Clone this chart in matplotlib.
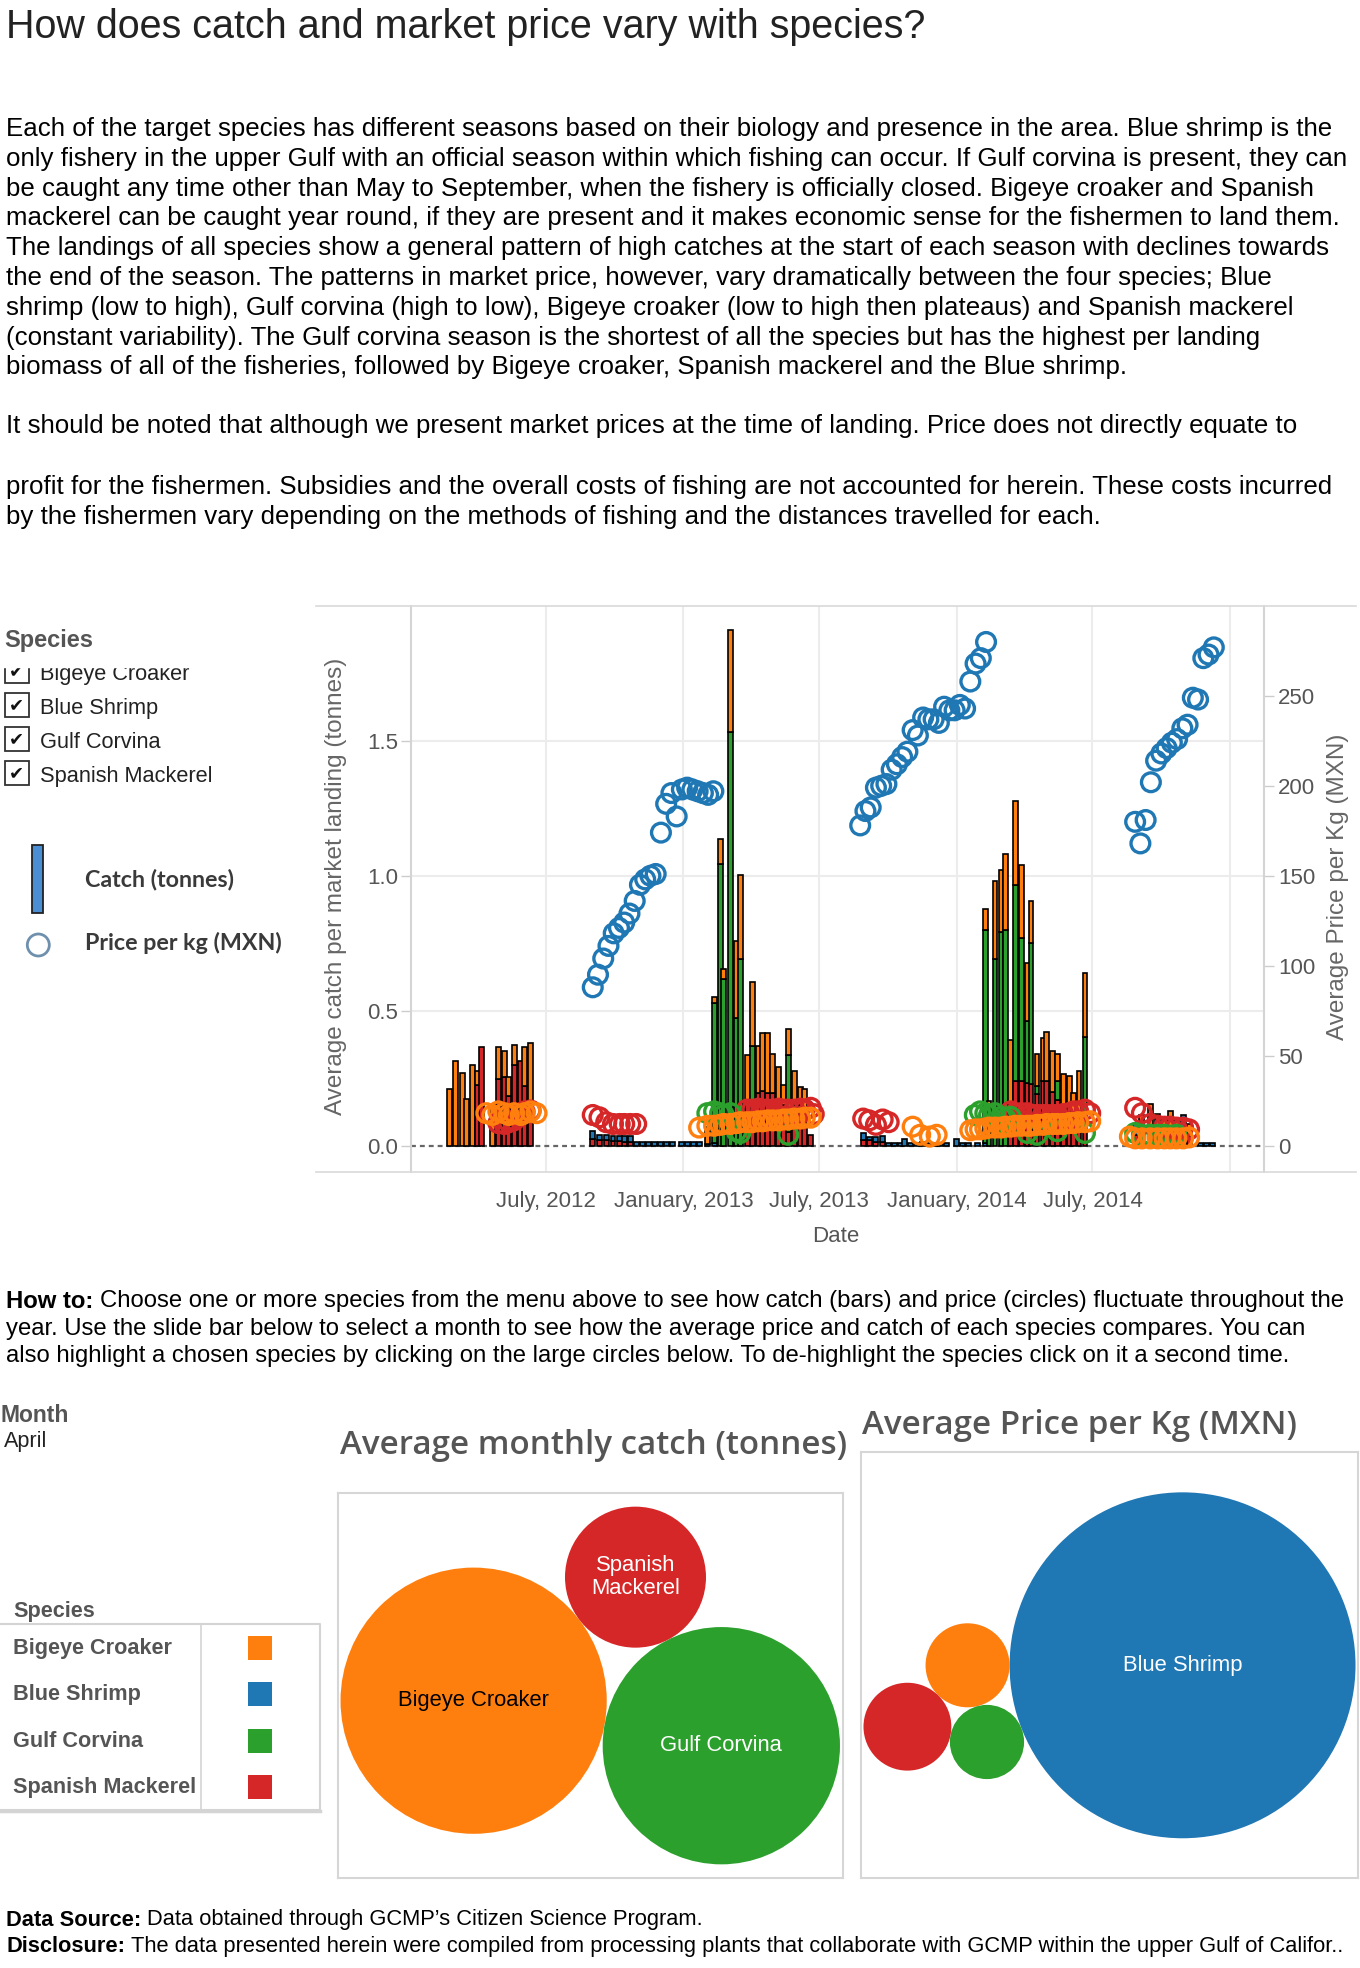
import matplotlib
matplotlib.use('Agg')
import matplotlib.pyplot as plt
from matplotlib.patches import Rectangle, Circle
import numpy as np
import pandas as pd

plt.rcParams['font.family'] = ['Liberation Sans', 'DejaVu Sans']

W, H = 1360, 1968

species = ['Bigeye Croaker', 'Blue Shrimp', 'Gulf Corvina', 'Spanish Mackerel']
colors = {'Bigeye Croaker': '#ff7f0e', 'Blue Shrimp': '#1f77b4',
          'Gulf Corvina': '#2ca02c', 'Spanish Mackerel': '#d62728'}

# ---- catch per landing (tonnes), stacked bars ----
bar_dates = [
    # 2012
    '2012-02-24', '2012-03-03', '2012-03-12', '2012-03-18', '2012-03-25', '2012-04-01', '2012-04-07',
    '2012-04-21', '2012-04-29', '2012-05-07', '2012-05-13', '2012-05-20', '2012-05-29', '2012-06-03',
    '2012-06-11',
    # 2012-13 shrimp season
    '2012-09-02', '2012-09-11', '2012-09-20', '2012-09-29', '2012-10-08', '2012-10-14', '2012-10-22',
    '2012-10-30', '2012-11-07', '2012-11-15', '2012-11-23', '2012-12-01', '2012-12-09', '2012-12-17',
    '2012-12-29', '2013-01-06', '2013-01-14', '2013-01-22', '2013-02-02',
    # 2013 corvina season
    '2013-02-11', '2013-02-19', '2013-02-24', '2013-03-05', '2013-03-13', '2013-03-18', '2013-03-27',
    '2013-04-03', '2013-04-11', '2013-04-17', '2013-04-23', '2013-04-30', '2013-05-08', '2013-05-15',
    '2013-05-21', '2013-05-29', '2013-06-06', '2013-06-12', '2013-06-20',
    # 2013-14 shrimp season
    '2013-08-29', '2013-09-06', '2013-09-15', '2013-09-24', '2013-10-02', '2013-10-10', '2013-10-18',
    '2013-10-23', '2013-10-31', '2013-11-08', '2013-11-16', '2013-11-24', '2013-12-02', '2013-12-10',
    '2013-12-18', '2014-01-01', '2014-01-09', '2014-01-17', '2014-01-28',
    # 2014 corvina season
    '2014-02-08', '2014-02-13', '2014-02-21', '2014-03-01', '2014-03-07', '2014-03-14', '2014-03-20',
    '2014-03-28', '2014-04-05', '2014-04-10', '2014-04-18', '2014-04-26', '2014-05-01', '2014-05-09',
    '2014-05-15', '2014-05-23', '2014-05-31', '2014-06-06', '2014-06-13', '2014-06-21',
    # 2014-15
    '2014-08-27', '2014-09-05', '2014-09-16', '2014-09-26', '2014-10-05', '2014-10-13', '2014-10-21',
    '2014-10-30', '2014-11-07', '2014-11-22', '2014-11-30', '2014-12-08',
]
catch_sm = ([0, 0, 0, 0, 0, 0.224, 0.364, 0, 0.245, 0.254, 0.185, 0.299, 0.315, 0.219, 0.15]
            + [0.025, 0.02, 0.02, 0.018, 0.018, 0.015, 0.015] + [0] * 12
            + [0, 0, 0, 0, 0, 0, 0.17, 0.17, 0.196, 0.203, 0.196, 0.196, 0.17, 0.15, 0.05, 0.15, 0.15, 0.1, 0.04]
            + [0.021, 0.021, 0.015, 0.015] + [0] * 15
            + [0, 0, 0, 0, 0, 0.16, 0.238, 0.24, 0.232, 0.23, 0.19, 0.24, 0.24, 0.2, 0.17, 0.15, 0.13, 0.1, 0.1, 0.05]
            + [0.04, 0.04, 0.05, 0.05, 0.05, 0.05, 0.04, 0.04, 0.03, 0, 0, 0])
catch_bs = ([0] * 15
            + [0.03, 0.02, 0.02, 0.018, 0.018, 0.02, 0.02, 0.012, 0.012, 0.012, 0.012, 0.012, 0.012, 0.012,
               0.012, 0.012, 0.012, 0.012, 0.005]
            + [0.01] + [0] * 18
            + [0.025, 0.012, 0.015, 0.02, 0.01, 0.01, 0.01, 0.024, 0.01, 0.01, 0.012, 0.01, 0.01, 0.01, 0.01,
               0.024, 0.01, 0.01, 0.008]
            + [0.01] + [0] * 19
            + [0.04, 0, 0, 0, 0, 0, 0, 0.072, 0, 0.01, 0.01, 0.01])
catch_gc = ([0] * 15 + [0] * 19
            + [0.52, 1.044, 0.618, 1.533, 0.471, 0.692, 0, 0.2, 0, 0, 0, 0, 0, 0, 0.286, 0, 0, 0, 0]
            + [0] * 19
            + [0.79, 0.1, 0.69, 0.79, 0.80, 0, 0.727, 0.53, 0.229, 0.52, 0.03, 0, 0, 0, 0.07, 0, 0, 0, 0, 0.353]
            + [0, 0.02, 0.02, 0, 0, 0, 0, 0, 0, 0, 0, 0])
catch_bc = ([0.209, 0.313, 0.269, 0.172, 0.299, 0.052, 0, 0.15, 0.119, 0.095, 0.069, 0.073, 0, 0.145, 0.229]
            + [0] * 18 + [0.065]
            + [0.02, 0.094, 0.038, 0.378, 0.286, 0.311, 0.166, 0.235, 0.173, 0.213, 0.22, 0.144, 0.12, 0.073,
               0.096, 0.125, 0.066, 0.11, 0]
            + [0] * 19
            + [0.076, 0.064, 0.29, 0.23, 0.28, 0.233, 0.314, 0.27, 0.217, 0.155, 0.12, 0.16, 0.18, 0.15, 0.10,
               0.116, 0.129, 0.095, 0.175, 0.235]
            + [0, 0.054, 0.085, 0.068, 0.05, 0.077, 0.06, 0, 0.05, 0, 0, 0])

# ---- price per kg (MXN), circles ----
bs_price_starts = ['2012-09-02', '2013-08-25', '2014-08-27']  # weekly landings
bs_price_1 = [88, 95, 104, 111, 118, 121, 124, 129, 136, 145, 148, 150, 151, 174, 190, 196, 183, 198, 199,
              198, 197, 196, 195, 197]
bs_price_2 = [178, 186, 188, 199, 200, 201, 209, 212, 216, 219, 231, 228, 238, 237, 237, 235, 244, 242, 242,
              245, 243, 258, 268, 271, 280]
bs_price_3 = [180, 168, 181, 202, 214, 218, 221, 224, 226, 232, 234, 249, 248, 271, 273, 277]

sm_price_dates = ['2012-04-29', '2012-05-07', '2012-05-13', '2012-05-20', '2012-06-03', '2012-06-11',
                  '2012-09-02', '2012-09-11', '2012-09-20', '2012-09-29', '2012-10-08', '2012-10-14',
                  '2012-10-22', '2012-10-30',
                  '2013-03-27', '2013-04-03', '2013-04-11', '2013-04-17', '2013-04-23', '2013-04-30',
                  '2013-05-08', '2013-05-15', '2013-05-21', '2013-05-29', '2013-06-06', '2013-06-12',
                  '2013-06-20', '2013-06-24',
                  '2013-08-29', '2013-09-06', '2013-09-15', '2013-09-24', '2013-10-02',
                  '2014-03-14', '2014-03-20', '2014-03-28', '2014-04-05', '2014-04-10', '2014-04-18',
                  '2014-04-26', '2014-05-01', '2014-05-09', '2014-05-15', '2014-05-23', '2014-05-31',
                  '2014-06-06', '2014-06-12', '2014-06-21', '2014-06-28',
                  '2014-08-27', '2014-09-05', '2014-09-16', '2014-09-26', '2014-10-05', '2014-10-13',
                  '2014-10-21', '2014-10-30', '2014-11-07']
sm_price = [12.5, 12, 13, 14, 19, 19.5,
            17, 15.7, 13, 12, 12, 12, 12, 12,
            20, 20, 20.5, 20, 20, 20, 20.5, 20, 20, 20, 20.5, 20, 21, 17.5,
            15, 14, 11.5, 14.5, 13,
            19, 18, 18, 18, 17, 17, 17, 17, 17, 17, 17.5, 18, 19, 19, 20, 18,
            21, 18, 12, 11, 10.5, 10.5, 10, 10, 9]

gc_price_dates = ['2013-02-02', '2013-02-11', '2013-02-19', '2013-02-24', '2013-03-05', '2013-03-13',
                  '2013-03-18', '2013-05-21',
                  '2014-01-25', '2014-02-01', '2014-02-08', '2014-02-13', '2014-02-21', '2014-03-01',
                  '2014-03-07', '2014-03-14', '2014-04-05', '2014-04-18', '2014-05-15', '2014-06-21',
                  '2014-08-27', '2014-09-05', '2014-09-16', '2014-09-26', '2014-10-05', '2014-10-13',
                  '2014-10-21']
gc_price = [18, 19, 18, 17, 18, 8, 7, 6,
            17, 19, 18, 17, 18, 16, 15, 16, 7, 6, 8, 7,
            7, 6, 6, 6, 6, 5.5, 6]

bc_price_dates = ['2012-04-13', '2012-04-21', '2012-04-29', '2012-05-07', '2012-05-13', '2012-05-20',
                  '2012-05-29', '2012-06-03', '2012-06-11', '2012-06-19',
                  '2013-01-22', '2013-02-02', '2013-02-11', '2013-02-19', '2013-02-24', '2013-03-05',
                  '2013-03-13', '2013-03-18', '2013-03-27', '2013-04-03', '2013-04-11', '2013-04-17',
                  '2013-04-23', '2013-04-30', '2013-05-08', '2013-05-15', '2013-05-21', '2013-05-29',
                  '2013-06-06', '2013-06-12', '2013-06-20',
                  '2013-11-03', '2013-11-13', '2013-11-26', '2013-12-05',
                  '2014-01-19', '2014-01-26', '2014-02-01', '2014-02-08', '2014-02-13', '2014-02-21',
                  '2014-03-01', '2014-03-07', '2014-03-14', '2014-03-20', '2014-03-28', '2014-04-05',
                  '2014-04-10', '2014-04-18', '2014-04-26', '2014-05-01', '2014-05-09', '2014-05-15',
                  '2014-05-23', '2014-05-31', '2014-06-06', '2014-06-12', '2014-06-21', '2014-06-28',
                  '2014-08-20', '2014-08-27', '2014-09-05', '2014-09-16', '2014-09-26', '2014-10-05',
                  '2014-10-13', '2014-10-21', '2014-10-30', '2014-11-07']
bc_price = [18, 17, 19, 18, 17, 18, 17, 18, 19, 18,
            10, 11, 11, 11.5, 12, 12, 12.5, 13, 13, 13, 13.5, 13.5, 14, 14, 14, 14.5, 14.5, 15, 15, 15.5, 15.5,
            10.5, 6, 5, 6,
            8.5, 9, 9, 9.5, 10, 10, 10, 10.5, 10.5, 11, 11, 11, 11, 11.5, 11.5, 12, 12, 12, 12, 12.5, 12.5,
            13, 13, 13.5,
            5, 4, 4, 4, 4, 4, 4, 4, 4, 4.5]

tick_dates = ['2012-07-01', '2013-01-01', '2013-07-01', '2014-01-01', '2014-07-01', '2015-01-01']
tick_labels = ['July, 2012', 'January, 2013', 'July, 2013', 'January, 2014', 'July, 2014', '']

# ---- selected month (bubbles) ----
month = 'April'
bubble_catch_species = ['Bigeye Croaker', 'Gulf Corvina', 'Spanish Mackerel']
bubble_catch = [0.36, 0.286, 0.101]
bubble_price_species = ['Blue Shrimp', 'Bigeye Croaker', 'Gulf Corvina', 'Spanish Mackerel']
bubble_price = [200, 11.8, 9.2, 12.9]

title = 'How does catch and market price vary with species?'
para1 = [
    'Each of the target species has different seasons based on their biology and presence in the area. Blue shrimp is the',
    'only fishery in the upper Gulf with an official season within which fishing can occur. If Gulf corvina is present, they can',
    'be caught any time other than May to September, when the fishery is officially closed. Bigeye croaker and Spanish',
    'mackerel can be caught year round, if they are present and it makes economic sense for the fishermen to land them.',
    'The landings of all species show a general pattern of high catches at the start of each season with declines towards',
    'the end of the season. The patterns in market price, however, vary dramatically between the four species; Blue',
    'shrimp (low to high), Gulf corvina (high to low), Bigeye croaker (low to high then plateaus) and Spanish mackerel',
    '(constant variability). The Gulf corvina season is the shortest of all the species but has the highest per landing',
    'biomass of all of the fisheries, followed by Bigeye croaker, Spanish mackerel and the Blue shrimp.',
]
para2 = [
    'It should be noted that although we present market prices at the time of landing. Price does not directly equate to',
    '',
    'profit for the fishermen. Subsidies and the overall costs of fishing are not accounted for herein. These costs incurred',
    'by the fishermen vary depending on the methods of fishing and the distances travelled for each.',
]
howto = [
    [('How to:', 'bold'), ('Choose one or more species from the menu above to see how catch (bars) and price (circles) fluctuate throughout the', 'normal')],
    [('year. Use the slide bar below to select a month to see how the average price and catch of each species compares. You can', 'normal')],
    [('also highlight a chosen species by clicking on the large circles below. To de-highlight the species click on it a second time.', 'normal')],
]
footer = [
    [('Data Source:', 'bold'), ('Data obtained through GCMP\u2019s Citizen Science Program.', 'normal')],
    [('Disclosure:', 'bold'), ('The data presented herein were compiled from processing plants that collaborate with GCMP within the upper Gulf of Califor..', 'normal')],
]

fig = plt.figure(figsize=(W / 100, H / 100), dpi=100)
fig.patch.set_facecolor('white')
renderer = fig.canvas.get_renderer()


def frac(x0, y0, x1, y1):
    return [x0 / W, 1 - y1 / H, (x1 - x0) / W, (y1 - y0) / H]


# ================= main chart =================
ax = fig.add_axes(frac(410.7, 606, 1264, 1172))
ax.set_xlim(pd.Timestamp('2012-01-03'), pd.Timestamp('2015-02-15'))
ax.set_ylim(-0.098, 2.0)
ax.set_axisbelow(True)

dates = pd.to_datetime(bar_dates)
layers = [(catch_sm, 'Spanish Mackerel'), (catch_bs, 'Blue Shrimp'),
          (catch_gc, 'Gulf Corvina'), (catch_bc, 'Bigeye Croaker')]
for i, d in enumerate(dates):
    bottom = 0.0
    for vals, sp in layers:
        if vals[i] > 0:
            ax.bar(d, vals[i], width=6.5, bottom=bottom, color=colors[sp],
                   edgecolor='black', linewidth=1.2, zorder=3)
            bottom += vals[i]

ax.axhline(0, color='#666666', lw=1.6, ls=(0, (2.2, 1.8)), zorder=2)
ax.set_yticks([0, 0.5, 1.0, 1.5])
ax.set_yticklabels(['0.0', '0.5', '1.0', '1.5'])
ax.set_xticks(pd.to_datetime(tick_dates))
ax.set_xticklabels(tick_labels)
ax.tick_params(axis='y', length=7, width=1, color='#cccccc', labelcolor='#555555', labelsize=16, pad=2)
ax.tick_params(axis='x', length=0, labelcolor='#555555', labelsize=16, pad=14)
ax.grid(True, color='#ececec', lw=1.5)
ax.get_ygridlines()[0].set_visible(False)
for s in ['top', 'bottom', 'right']:
    ax.spines[s].set_visible(False)
ax.spines['left'].set_color('#d4d4d4')
ax.spines['left'].set_linewidth(1.5)

ax2 = ax.twinx()
ax2.set_ylim(-14.7, 300)
ax2.set_yticks(range(0, 251, 50))
ax2.tick_params(axis='y', length=7, width=1, color='#cccccc', labelcolor='#555555', labelsize=16, pad=3)
for s in ['top', 'bottom', 'left']:
    ax2.spines[s].set_visible(False)
ax2.spines['right'].set_color('#d4d4d4')
ax2.spines['right'].set_linewidth(1.5)

ms = 13.5 ** 2
for d_, v_, sp in [(sm_price_dates, sm_price, 'Spanish Mackerel'),
                   (gc_price_dates, gc_price, 'Gulf Corvina'),
                   (bc_price_dates, bc_price, 'Bigeye Croaker')]:
    ax2.scatter(pd.to_datetime(d_), v_, s=ms, facecolors='none',
                edgecolors=colors[sp], linewidths=2.4, zorder=4)
for start, vals in zip(bs_price_starts, [bs_price_1, bs_price_2, bs_price_3]):
    ax2.scatter(pd.date_range(start, periods=len(vals), freq='7D'), vals, s=ms,
                facecolors='none', edgecolors=colors['Blue Shrimp'], linewidths=2.4, zorder=4)


# ================= bubbles =================
def tangent(ca, ra, cb, rb, r, side):
    d = np.hypot(*(cb - ca))
    u = (cb - ca) / d
    a = ((ra + r) ** 2 - (rb + r) ** 2 + d ** 2) / (2 * d)
    h = np.sqrt(max((ra + r) ** 2 - a ** 2, 0))
    return ca + a * u + side * h * np.array([-u[1], u[0]])


def bubbles(rect, names, values, angle, steps):
    r = np.sqrt(np.array(values, dtype=float))
    t = np.radians(angle)
    c = [np.zeros(2), (r[0] + r[1]) * np.array([np.cos(t), np.sin(t)])]
    for i, j, side in steps:
        c.append(tangent(c[i], r[i], c[j], r[j], r[len(c)], side))
    c = np.array(c)
    x0, x1 = (c[:, 0] - r).min(), (c[:, 0] + r).max()
    y0, y1 = (c[:, 1] - r).min(), (c[:, 1] + r).max()
    pw, ph = rect[2] - rect[0], rect[3] - rect[1]
    s = 0.99 * min(pw / (x1 - x0), ph / (y1 - y0))
    bx = fig.add_axes(frac(*rect))
    cx, cy = (x0 + x1) / 2, (y0 + y1) / 2
    bx.set_xlim(cx - pw / 2 / s, cx + pw / 2 / s)
    bx.set_ylim(cy - ph / 2 / s, cy + ph / 2 / s)
    bx.set_xticks([])
    bx.set_yticks([])
    for sp in bx.spines.values():
        sp.set_color('#d6d6d6')
        sp.set_linewidth(1.5)
    for k, name in enumerate(names):
        bx.add_patch(Circle(c[k], r[k], color=colors[name], lw=0))
        rpx = r[k] * s
        if rpx > 60:
            label = name.replace(' ', '\n') if rpx < 90 else name
            bx.text(c[k][0], c[k][1], label, ha='center', va='center', fontsize=15.8,
                    color='black' if name == 'Bigeye Croaker' else 'white', linespacing=1.15)


bubbles((338, 1492.7, 842.5, 1878.3), bubble_catch_species, bubble_catch, -10.3, [(0, 1, 1)])
bubbles((861, 1452.3, 1358, 1878.3), bubble_price_species, bubble_price, 180, [(0, 1, 1), (1, 2, -1)])

# ================= overlay (text, legends) =================
ov = fig.add_axes([0, 0, 1, 1])
ov.set_xlim(0, W)
ov.set_ylim(H, 0)
ov.axis('off')


def fit(t, target):
    w = t.get_window_extent(renderer=renderer).width
    t.set_fontsize(t.get_fontsize() * target / w)
    return t.get_fontsize()


def run_width(parts, size):
    gap = 0.278 * size * 100 / 72
    w = -gap
    for s, wt in parts:
        t = ov.text(0, 0, s, fontsize=size, fontweight=wt)
        w += t.get_window_extent(renderer=renderer).width + gap
        t.remove()
    return w


def runs(x, y, parts, size, color='black'):
    gap = 0.278 * size * 100 / 72
    for s, wt in parts:
        t = ov.text(x, y, s, fontsize=size, fontweight=wt, color=color, ha='left', va='center')
        x += t.get_window_extent(renderer=renderer).width + gap


t = ov.text(6, 27.5, title, fontsize=28, color='#222222', ha='left', va='center')
fit(t, 921)

ref = ov.text(0, 0, para1[1], fontsize=18)
body = fit(ref, 1345)
ref.remove()
for i, line in enumerate(para1):
    ov.text(6, 129 + 29.8 * i, line, fontsize=body, ha='left', va='center')
for i, line in enumerate(para2):
    ov.text(6, 426.4 + 30.1 * i, line, fontsize=body, ha='left', va='center')

small = min(18 * 1343 / run_width(howto[0], 18), 18 * 1320 / run_width(howto[2], 18))
for i, parts in enumerate(howto):
    runs(6, 1301 + 27.7 * i, parts, small)
foot = min(18 * 698 / run_width(footer[0], 18), 18 * 1340 / run_width(footer[1], 18))
for i, parts in enumerate(footer):
    runs(6, 1920 + 26.3 * i, parts, foot)

# pane frame of the main chart
ov.plot([316, 1356], [606, 606], color='#d9d9d9', lw=1.2)
ov.plot([316, 1356], [1172, 1172], color='#d9d9d9', lw=1.2)

ov.text(336, 886, 'Average catch per market landing (tonnes)', rotation=90, ha='center', va='center',
        fontsize=17.5, color='#666666')
ov.text(1338, 887, 'Average Price per Kg (MXN)', rotation=90, ha='center', va='center',
        fontsize=17.5, color='#666666')
ov.text(836, 1236, 'Date', ha='center', va='center', fontsize=16, color='#555555')

# species filter
ov.text(4, 646.7, 'Species', fontsize=17, fontweight='bold', color='#555555', ha='left', va='baseline')
for i, sp in enumerate(species):
    base = 680 + 34 * i
    ov.add_patch(Rectangle((4.5, base - 20.7), 24, 24, fill=False, ec='#333333', lw=1.3))
    ov.text(16.5, base - 8.5, '\u2714', family='DejaVu Sans', fontsize=13, color='#111111',
            ha='center', va='center')
    ov.text(40, base, sp, fontsize=15.7, color='#222222', ha='left', va='baseline')
ov.add_patch(Rectangle((0, 655), 310, 11.7, color='white', zorder=10))

# marks legend
ov.add_patch(Rectangle((31.7, 845), 11.6, 68, fc='#4a8fd4', ec='#222222', lw=1.3))
ov.add_patch(Circle((38.3, 945), 11, fill=False, ec='#6f90ad', lw=2))
t = ov.text(85, 950, 'Price per kg (MXN)', family='Lato', fontweight='bold', fontsize=15,
            color='#3a3a3a', ha='left', va='baseline')
lg = fit(t, 198)
ov.text(85, 886.7, 'Catch (tonnes)', family='Lato', fontweight='bold', fontsize=lg,
        color='#3a3a3a', ha='left', va='baseline')

# month filter + colour legend
ov.text(0, 1421.7, 'Month', fontsize=16.5, fontweight='bold', color='#555555', ha='left', va='baseline')
ov.text(4, 1446.7, month, fontsize=15.6, color='#222222', ha='left', va='baseline')
ov.text(13, 1617.3, 'Species', fontsize=15.6, fontweight='bold', color='#555555', ha='left', va='baseline')
ov.plot([0, 320, 320, 0], [1624, 1624, 1810, 1810], color='#d4d4d4', lw=1.5)
ov.plot([0, 320], [1810.5, 1810.5], color='#d4d4d4', lw=2.5)
ov.plot([200.7, 200.7], [1624, 1810], color='#d4d4d4', lw=1.2)
for i, sp in enumerate(species):
    base = 1654 + 46.4 * i
    ov.text(13, base, sp, fontsize=15.6, fontweight='bold', color='#555555', ha='left', va='baseline')
    ov.add_patch(Rectangle((248, base - 18), 24, 24, color=colors[sp], lw=0))

# bubble titles
t = ov.text(339.9, 1445.5, 'Average monthly catch (tonnes)', family='Open Sans', fontweight='semibold',
            fontsize=20, color='#555555', ha='left', va='center')
bt = fit(t, 506)
ov.text(862, 1425.5, 'Average Price per Kg (MXN)', family='Open Sans', fontweight='semibold',
        fontsize=bt, color='#555555', ha='left', va='center')

fig.savefig('out.png', dpi=100, facecolor='white')
